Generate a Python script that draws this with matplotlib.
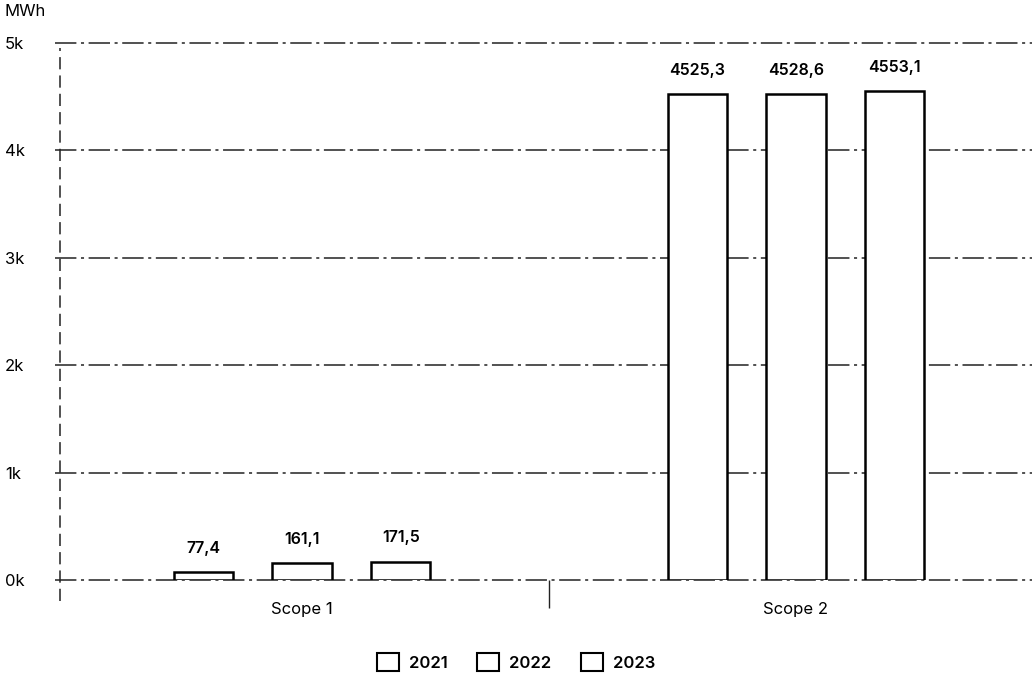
import matplotlib
matplotlib.use("Agg")
import matplotlib.pyplot as plt
import matplotlib.transforms as mtransforms
import numpy as np
from matplotlib.patches import Patch

# data
categories = ["Scope 1", "Scope 2"]
years = ["2021", "2022", "2023"]
values = {
    "2021": [77.4, 4525.3],
    "2022": [161.1, 4528.6],
    "2023": [171.5, 4553.1],
}
yticks = [0, 1000, 2000, 3000, 4000, 5000]
ytick_labels = ["0k", "1k", "2k", "3k", "4k", "5k"]

plt.rcParams['font.family'] = ['Inter', 'DejaVu Sans']

fig = plt.figure(figsize=(10.32, 6.84), dpi=100)
# axes spans past the right edge like the reference
ax = fig.add_axes([55/1032, 104/684, 988/1032, 537/684])

x = np.arange(len(categories))
width = 0.12
offsets = [-0.2, 0.0, 0.2]

#bars
for yr, off in zip(years, offsets):
    bars = ax.bar(x + off, values[yr], width, color='white', edgecolor='black',
                  linewidth=1.8, zorder=3)
    for b, v in zip(bars, values[yr]):
        ax.text(b.get_x() + b.get_width()/2, v + 150, f"{v:.1f}".replace('.', ','),
                ha='center', va='bottom', fontsize=11.5, fontweight='semibold', zorder=4)

ax.set_xlim(-0.5, 1.5)
ax.set_ylim(0, 5000)

#grid lines
for yv in yticks:
    ax.axhline(yv, color='#222222', linewidth=1.1, linestyle=(0, (14, 3, 2, 3)),
               zorder=1, clip_on=False)

for s in ['top', 'right', 'bottom', 'left']:
    ax.spines[s].set_visible(False)
# dashed y-axis line
trans = mtransforms.blended_transform_factory(ax.transData, ax.transAxes)
ax.plot([-0.49, -0.49], [-0.04, 0.99], transform=trans,
        color='#222222', linewidth=1.1, linestyle=(0, (8, 4)), clip_on=False)

ax.set_yticks(yticks)
ax.set_yticklabels(ytick_labels, fontsize=12)
ax.tick_params(axis='y', length=0, pad=36)
for lab in ax.get_yticklabels():
    lab.set_horizontalalignment('left')

# category ticks
ax.set_xticks(x)
ax.set_xticklabels(categories, fontsize=12)
ax.tick_params(axis='x', length=0, pad=16)
ax.set_xticks([0.5], minor=True)
ax.tick_params(axis='x', which='minor', length=20, width=1, color='#222222')

fig.text(5/1032, 1 - 12/684, "MWh", fontsize=12, ha='left', va='center')

handles = [Patch(facecolor='white', edgecolor='black', linewidth=1.5) for _ in years]
fig.legend(handles, years, loc='center', bbox_to_anchor=(0.5, 1 - 662/684), ncol=3,
           frameon=False, handlelength=1.3, handleheight=1.3,
           columnspacing=1.8, handletextpad=0.6, prop={'weight': 'semibold', 'size': 12})

plt.savefig("out.png", dpi=100)
